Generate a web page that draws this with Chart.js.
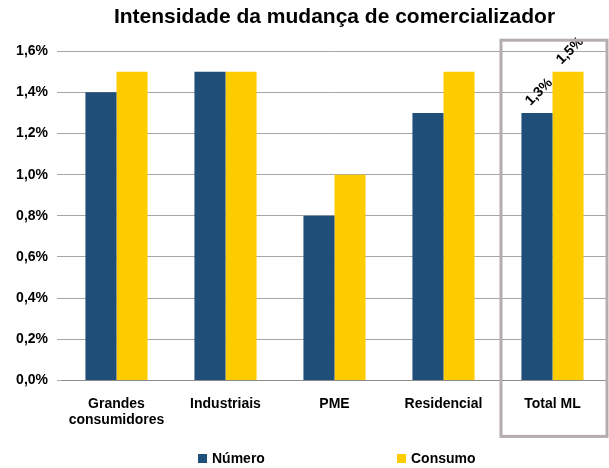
<!DOCTYPE html>
<html>
<head>
<meta charset="utf-8">
<script src="https://cdn.jsdelivr.net/npm/chart.js@4.4.1/dist/chart.umd.min.js"></script>
<style>
body{margin:0;background:#fff;}
#wrap{position:relative;width:609px;height:468px;}
#legend{position:absolute;left:0;top:448px;width:609px;height:20px;font:bold 14px 'Liberation Sans Narrow','Arial Narrow','Liberation Sans',sans-serif;color:#000;}
.item{position:absolute;top:0;white-space:nowrap;line-height:20px;}
.box{display:inline-block;width:9px;height:9px;margin-right:5px;vertical-align:0px;}
</style>
</head>
<body>
<div id="wrap">
<canvas id="chartarea" width="609" height="468"></canvas>
<div id="legend"></div>
</div>
<script>
const FONT="'Liberation Sans Narrow','Arial Narrow','Liberation Sans',sans-serif";
const categories=[["Grandes","consumidores"],"Industriais","PME","Residencial","Total ML"];
const numero=[1.4,1.5,0.8,1.3,1.3];
const consumo=[1.5,1.5,1.0,1.5,1.5];
const seriesNames=["Número","Consumo"];
const seriesColors=["#1F4E79","#FFCC00"];
const yTicks=[0,0.2,0.4,0.6,0.8,1.0,1.2,1.4,1.6];

function pct(v){return v.toFixed(1).replace(".",",")+"%";}

// labels only over the last group, rotated like the original
const lastLabels={
  id:"lastLabels",
  afterDatasetsDraw(c){
    const ctx=c.ctx;
    const last=categories.length-1;
    ctx.save();
    ctx.font="bold 14px "+FONT;
    ctx.fillStyle="#000";
    ctx.textAlign="center";
    ctx.textBaseline="middle";
    c.data.datasets.forEach((ds,i)=>{
      const bar=c.getDatasetMeta(i).data[last];
      ctx.save();
      ctx.translate(bar.x+2,bar.y-21);
      ctx.rotate(-Math.PI/4);
      ctx.fillText(pct(ds.data[last]),0,0);
      ctx.restore();
    });
    ctx.restore();
  }
};

// grey frame round "Total ML"
const frame={
  id:"frame",
  afterDraw(c){
    const x=c.scales.x, a=c.chartArea, ctx=c.ctx;
    const n=categories.length;
    const left=(x.getPixelForValue(n-2)+x.getPixelForValue(n-1))/2+3;
    ctx.save();
    ctx.strokeStyle="#B5ADAD";
    ctx.lineWidth=3;
    ctx.strokeRect(left,a.top-11,c.width-2-left,a.bottom-a.top+67);
    ctx.restore();
  }
};

new Chart(document.getElementById("chartarea"),{
  type:"bar",
  data:{
    labels:categories,
    datasets:[
      {label:seriesNames[0],data:numero,backgroundColor:seriesColors[0]},
      {label:seriesNames[1],data:consumo,backgroundColor:seriesColors[1]}
    ]
  },
  options:{
    responsive:false,
    animation:false,
    categoryPercentage:0.57,
    barPercentage:1,
    layout:{padding:{left:0,right:2,top:0,bottom:24}},
    plugins:{
      legend:{display:false},
      tooltip:{enabled:false},
      title:{
        display:true,
        fullSize:false,
        text:"Intensidade da mudança de comercializador",
        color:"#000",
        font:{family:FONT,size:21,weight:"bold"},
        padding:{top:5,bottom:21}
      }
    },
    scales:{
      x:{
        grid:{display:false,drawTicks:false},
        border:{display:true,color:"#8c8c8c",width:1},
        ticks:{color:"#000",font:{family:FONT,size:14,weight:"bold"},padding:15,maxRotation:0,autoSkip:false}
      },
      y:{
        min:0,max:1.6,
        afterBuildTicks:s=>{s.ticks=yTicks.map(v=>({value:v}));},
        afterFit:s=>{s.width=62;},
        grid:{color:"#A6A6A6",lineWidth:1,tickLength:5,drawTicks:true},
        border:{display:false},
        ticks:{color:"#000",font:{family:FONT,size:14,weight:"bold"},padding:9,callback:v=>pct(v)}
      }
    }
  },
  plugins:[lastLabels,frame]
});

// legend as plain text under the chart
const legend=document.getElementById("legend");
const legendLeft=[198,397];
seriesNames.forEach((n,i)=>{
  const d=document.createElement("div");
  d.className="item";
  d.style.left=legendLeft[i]+"px";
  d.innerHTML='<span class="box" style="background:'+seriesColors[i]+'"></span>'+n;
  legend.appendChild(d);
});
</script>
</body>
</html>
